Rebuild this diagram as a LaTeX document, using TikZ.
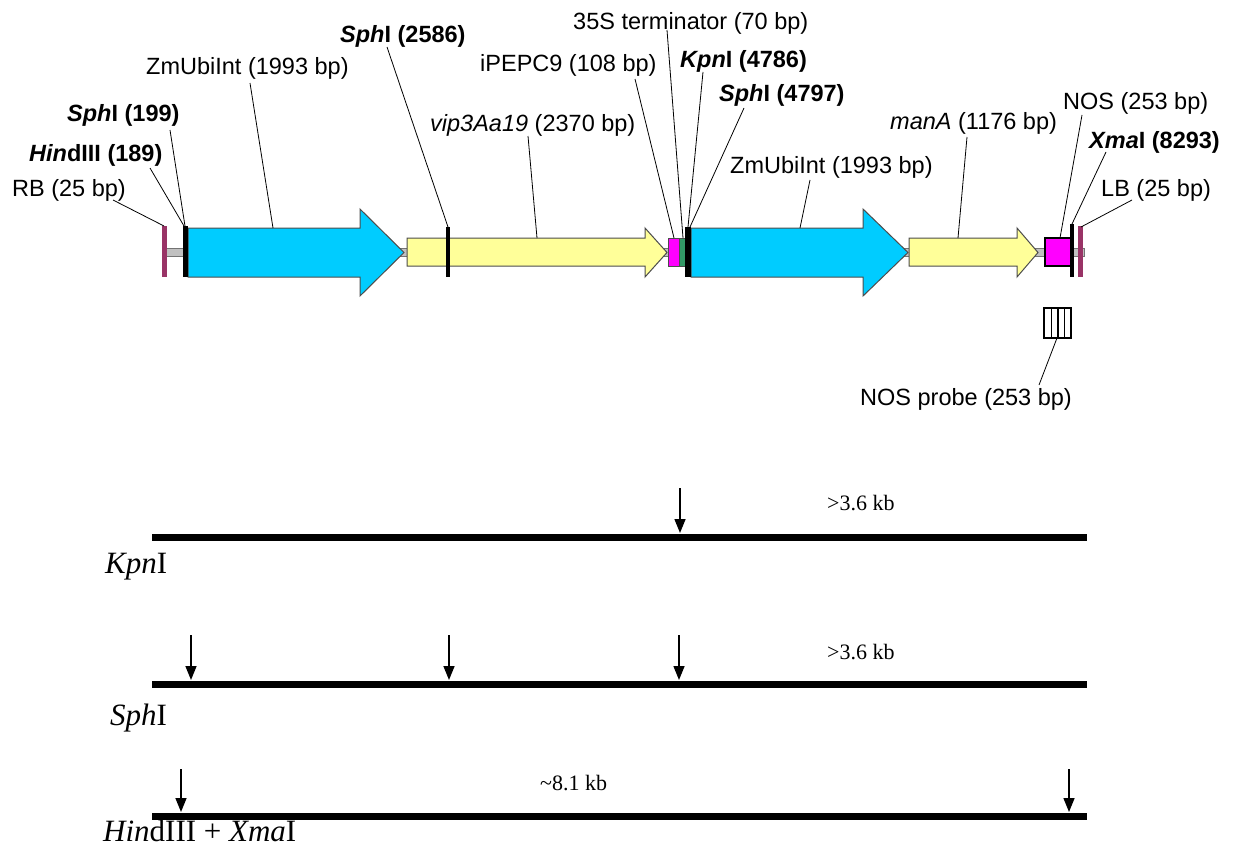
\documentclass[tikz,border=0pt]{standalone}
\usepackage{fontspec}
\setmainfont{Liberation Serif}
\setsansfont{Liberation Sans}
\usetikzlibrary{arrows.meta}
\definecolor{ubiblue}{HTML}{00CCFF}
\definecolor{geneyel}{HTML}{FFFF99}
\definecolor{termmag}{HTML}{FF00FF}
\definecolor{termgrn}{HTML}{339966}
\definecolor{bordcol}{HTML}{993366}
\definecolor{bbgray}{HTML}{C0C0C0}
\tikzset{
  lab/.style={font=\sffamily\fontsize{23.5}{28}\selectfont, inner sep=0pt, anchor=west},
  blab/.style={font=\sffamily\bfseries\fontsize{23.5}{28}\selectfont, inner sep=0pt, anchor=west},
  lead/.style={draw=black, line width=0.8pt},
  feat/.style={draw=black!70, line width=1pt},
  sitebar/.style={fill=black},
  bordbar/.style={fill=bordcol},
  frag/.style={line width=7pt},
  cutarrow/.style={line width=1.5pt, -{Triangle[length=14pt,width=11pt]}},
  enz/.style={font=\fontsize{31}{36}\selectfont, inner sep=0pt, anchor=west},
  fsize/.style={font=\fontsize{22}{26}\selectfont, inner sep=0pt, anchor=west},
}
\begin{document}
\begin{tikzpicture}[x=1pt,y=-1pt]
\useasboundingbox (0,0) rectangle (1233,851);
% backbone
\draw[fill=bbgray, draw=black!55, line width=0.6pt] (166,248) rectangle (1084,256);
% right and left borders
\fill[bordbar] (162,226) rectangle (167,277);
\fill[bordbar] (1078,226) rectangle (1083,277);
% ZmUbiInt 1
\draw[feat, fill=ubiblue] (188,228) -- (360,228) -- (360,209) -- (404,252.5) -- (360,296) -- (360,277) -- (188,277) -- cycle;
% vip3Aa19
\draw[feat, fill=geneyel] (407,238) -- (645,238) -- (645,228) -- (667,252.5) -- (645,277) -- (645,266) -- (407,266) -- cycle;
% iPEPC9 and 35S
\draw[feat, fill=termmag] (668,238) rectangle (679,266);
\draw[feat, fill=termgrn] (679,238) rectangle (685,266);
% ZmUbiInt 2
\draw[feat, fill=ubiblue] (691,228) -- (863,228) -- (863,209) -- (908,252.5) -- (863,296) -- (863,277) -- (691,277) -- cycle;
% manA
\draw[feat, fill=geneyel] (909,238) -- (1017,238) -- (1017,228) -- (1038,252.5) -- (1017,277) -- (1017,266) -- (909,266) -- cycle;
% NOS
\draw[draw=black, line width=1.2pt, fill=termmag] (1045,238) rectangle (1071,266);
% restriction sites
\fill[sitebar] (183,226) rectangle (188,277);
\fill[sitebar] (446,227) rectangle (450,277);
\fill[sitebar] (685,227) rectangle (691,277);
\fill[sitebar] (1070,224) rectangle (1074,277);

% labels
\node[lab]  (tRB)   at (12,190)  {RB (25 bp)};
\node[blab] (tHind) at (29,155)  {\textit{Hin}dIII (189)};
\node[blab] (tSph1) at (67,115)  {\textit{Sph}I (199)};
\node[lab]  (tUbi1) at (146,68)  {ZmUbiInt (1993 bp)};
\node[blab] (tSph2) at (340,36)  {\textit{Sph}I (2586)};
\node[lab]  (tVip)  at (430,125) {\textit{vip3Aa19} (2370 bp)};
\node[lab]  (tPep)  at (480,65)  {iPEPC9 (108 bp)};
\node[lab]  (t35S)  at (573,23)  {35S terminator (70 bp)};
\node[blab] (tKpn)  at (680,61)  {\textit{Kpn}I (4786)};
\node[blab] (tSph3) at (719,95)  {\textit{Sph}I (4797)};
\node[lab]  (tUbi2) at (730,167) {ZmUbiInt (1993 bp)};
\node[lab]  (tMan)  at (890,123) {\textit{manA} (1176 bp)};
\node[lab]  (tNOS)  at (1063,103) {NOS (253 bp)};
\node[blab] (tXma)  at (1089,142) {\textit{Xma}I (8293)};
\node[lab]  (tLB)   at (1101,190) {LB (25 bp)};

% leader coordinates
\coordinate (aRB) at (113,200);   \coordinate (bRB) at (164,226);
\coordinate (aHind) at (150,168); \coordinate (bHind) at (184,226);
\coordinate (aSph1) at (170,130); \coordinate (bSph1) at (185,226);
\coordinate (aUbi1) at (250,83);  \coordinate (bUbi1) at (273,228);
\coordinate (aSph2) at (387,47);  \coordinate (bSph2) at (448,227);
\coordinate (aVip) at (528,136);  \coordinate (bVip) at (537,238);
\coordinate (aPep) at (635,79);   \coordinate (bPep) at (674,238);
\coordinate (a35S) at (667,30);   \coordinate (b35S) at (683,238);
\coordinate (aKpn) at (703,72);   \coordinate (bKpn) at (688,227);
\coordinate (aSph3) at (744,108); \coordinate (bSph3) at (690,227);
\coordinate (aUbi2) at (810,180); \coordinate (bUbi2) at (800,228);
\coordinate (aMan) at (967,137);  \coordinate (bMan) at (958,238);
\coordinate (aNOS) at (1082,115); \coordinate (bNOS) at (1060,238);
\coordinate (aXma) at (1106,152); \coordinate (bXma) at (1072,224);
\coordinate (aLB) at (1132,200);  \coordinate (bLB) at (1081,227);
\foreach \n in {RB,Hind,Sph1,Ubi1,Sph2,Vip,Pep,35S,Kpn,Sph3,Ubi2,Man,NOS,Xma,LB}
  \draw[lead] (a\n) -- (b\n);

% NOS probe
\node[draw=black, line width=1.6pt, minimum width=27pt, minimum height=30pt, inner sep=0pt] (probe) at (1057.5,323) {};
\foreach \xx in {1051.5,1058,1064.5}
  \draw[line width=1.1pt] (\xx,308) -- (\xx,338);
\node[lab, anchor=east] (tProbe) at (1072,399) {NOS probe (253 bp)};
\coordinate (pa) at (1057,338); \coordinate (pb) at (1039,385);
\draw[lead] (pa) -- (pb);

% KpnI digest
\coordinate (k0) at (152,537); \coordinate (k1) at (1087,537);
\draw[frag] (k0) -- (k1);
\coordinate (ka) at (680,488); \coordinate (kb) at (680,533);
\draw[cutarrow] (ka) -- (kb);
\node[fsize] (kSize) at (827,503) {>3.6 kb};
\node[enz] (kLab) at (105,567) {\textit{Kpn}I};

% SphI digest
\coordinate (s0) at (152,684); \coordinate (s1) at (1087,684);
\draw[frag] (s0) -- (s1);
\foreach \xx/\nm in {191/sa,449/sb,679/sc}{
  \coordinate (\nm t) at (\xx,635); \coordinate (\nm h) at (\xx,680);
  \draw[cutarrow] (\nm t) -- (\nm h);
}
\node[fsize] (sSize) at (827,652) {>3.6 kb};
\node[enz] (sLab) at (110,718) {\textit{Sph}I};

% HindIII + XmaI digest
\coordinate (h0) at (152,816); \coordinate (h1) at (1087,816);
\draw[frag] (h0) -- (h1);
\foreach \xx/\nm in {181/ha,1069/hb}{
  \coordinate (\nm t) at (\xx,769); \coordinate (\nm h) at (\xx,812);
  \draw[cutarrow] (\nm t) -- (\nm h);
}
\node[fsize] (hSize) at (540,783) {\textasciitilde8.1 kb};
\node[enz] (hLab) at (103,831) {\textit{Hin}dIII + \textit{Xma}I};
\end{tikzpicture}
\end{document}
